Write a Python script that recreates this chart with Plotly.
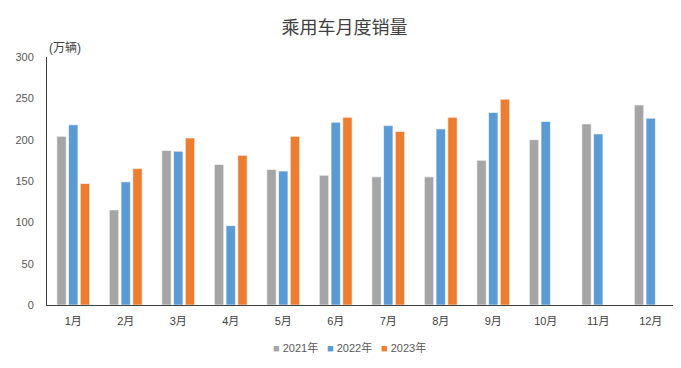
import plotly.graph_objects as go

months = ["1月", "2月", "3月", "4月", "5月", "6月", "7月", "8月", "9月", "10月", "11月", "12月"]
sales_2021 = [204, 115, 187, 170, 164, 157, 155, 155, 175, 200, 219, 242]
sales_2022 = [218, 149, 186, 96, 162, 221, 217, 213, 233, 222, 207, 226]
sales_2023 = [147, 165, 202, 181, 204, 227, 210, 227, 249, None, None, None]
y_ticks = [0, 50, 100, 150, 200, 250, 300]

FONT = "Liberation Sans, Noto Sans CJK SC, sans-serif"

series = [("2021年", sales_2021, "#A5A5A5"),
          ("2022年", sales_2022, "#5B9BD5"),
          ("2023年", sales_2023, "#ED7D31")]

fig = go.Figure()
for name, vals, color in series:
    fig.add_trace(go.Bar(x=months, y=vals, name=name, showlegend=False,
                         marker=dict(color=color, line=dict(color="rgba(255,255,255,0.6)", width=1))))

annotations = [dict(text="(万辆)", xref="paper", yref="paper", x=0, y=1.0,
                    xanchor="left", yanchor="bottom", showarrow=False,
                    font=dict(size=12, color="#404040"))]
# legend entries drawn as text
legend_x = [271, 325, 379]
for (name, vals, color), lx in zip(series, legend_x):
    annotations.append(dict(
        text=f"<span style='color:{color}'>■</span> {name}",
        xref="paper", yref="paper",
        x=(lx - 47) / 630, y=-(347 - 305) / 248,
        xanchor="left", yanchor="middle", showarrow=False,
        font=dict(size=11, color="#595959")))

fig.update_layout(
    width=673, height=360,
    margin=dict(l=39, r=4, t=49, b=63),
    paper_bgcolor="white", plot_bgcolor="white",
    barmode="group", bargap=0.33, bargroupgap=0.2,
    font=dict(family=FONT, size=11, color="#595959"),
    title=dict(text="乘用车月度销量", x=0.5, xanchor="center", yref="container", y=0.945, yanchor="middle",
               font=dict(family="Noto Sans CJK SC, sans-serif", size=18, color="#404040")),
    showlegend=False,
    xaxis=dict(showline=True, linecolor="#404040", linewidth=1, showgrid=False, automargin=False,
               ticks="", ticklabelstandoff=6, tickfont=dict(size=11, color="#404040")),
    yaxis=dict(range=[0, 300], tickvals=y_ticks, showline=True, linecolor="#404040", linewidth=1,
               showgrid=False, zeroline=False, ticks="", ticklabelstandoff=10, automargin=False,
               tickfont=dict(size=11, color="#595959")),
    annotations=annotations,
)

fig.write_html("out.html")
